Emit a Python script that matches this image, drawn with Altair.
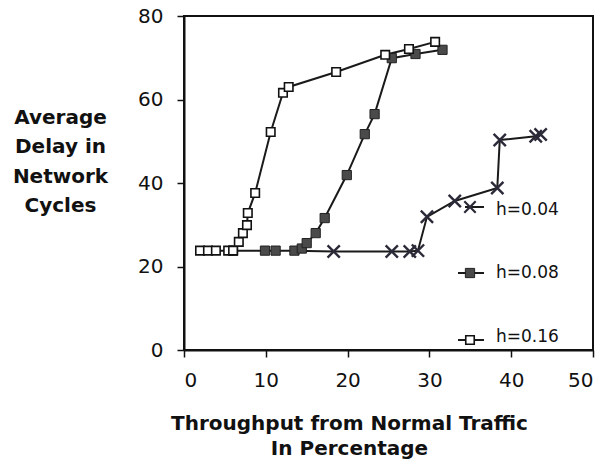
import altair as alt
import pandas as pd

# h = 0.16 (open squares)
thr_016 = [1.96, 2.93, 3.9, 5.4, 6.0, 6.7, 7.2, 7.7, 7.8, 8.7, 10.6, 12.1, 12.8, 18.6, 24.6, 27.5, 30.7]
del_016 = [23.8, 23.8, 23.8, 23.8, 23.8, 25.9, 28.0, 29.9, 32.8, 37.6, 52.2, 61.6, 63.0, 66.6, 70.7, 72.1, 73.8]

# h = 0.08 (filled squares)
thr_008 = [6.0, 9.9, 11.2, 13.5, 14.4, 15.0, 16.1, 17.2, 19.9, 22.1, 23.3, 25.4, 28.3, 31.6]
del_008 = [23.8, 23.8, 23.8, 23.8, 24.3, 25.6, 28.0, 31.6, 41.9, 51.7, 56.5, 69.9, 70.9, 71.9]

# h = 0.04 (crosses)
thr_004 = [13.5, 18.3, 25.4, 27.6, 28.6, 29.7, 33.1, 38.3, 38.6, 43.0, 43.6]
del_004 = [23.8, 23.6, 23.6, 23.6, 23.8, 31.9, 35.7, 38.8, 50.3, 51.2, 51.6]

legend_labels = ["h=0.04", "h=0.08", "h=0.16"]
x_ticks = [0, 10, 20, 30, 40, 50]
y_ticks = [0, 20, 40, 60, 80]


def frame(xs, ys, name):
    return pd.DataFrame({"x": xs, "y": ys, "series": name, "idx": list(range(len(xs)))})


d004 = frame(thr_004, del_004, legend_labels[0])
d008 = frame(thr_008, del_008, legend_labels[1])
d016 = frame(thr_016, del_016, legend_labels[2])
df = pd.concat([d004, d008, d016], ignore_index=True)

xscale = alt.Scale(domain=[0, 50], nice=False, zero=False)
yscale = alt.Scale(domain=[0, 80], nice=False)

xenc = alt.X(
    "x:Q",
    scale=xscale,
    axis=alt.Axis(
        values=x_ticks,
        title=["Throughput from Normal Traffic", "In Percentage"],
        grid=False,
        labelFont="DejaVu Sans",
        labelFontSize=20,
        labelColor="#111",
        labelPadding=13,
        tickSize=7,
        tickWidth=1.5,
        tickColor="#111",
        domainColor="#111",
        domainWidth=2,
        titleFont="DejaVu Sans",
        titleFontSize=20,
        titleFontWeight="bold",
        titleColor="#111",
        titleX=165,
        titleY=63,
        titleAlign="center",
        titleBaseline="top",
        titleLineHeight=25,
    ),
)
yenc = alt.Y(
    "y:Q",
    scale=yscale,
    axis=alt.Axis(
        values=y_ticks,
        title=["Average", "Delay in", "Network", "Cycles"],
        grid=False,
        labelFont="DejaVu Sans",
        labelFontSize=20,
        labelColor="#111",
        labelPadding=14,
        tickSize=7,
        tickWidth=1.5,
        tickColor="#111",
        domainColor="#111",
        domainWidth=2,
        titleFont="DejaVu Sans",
        titleFontSize=20,
        titleFontWeight="bold",
        titleColor="#111",
        titleAngle=0,
        titleX=-124,
        titleY=91,
        titleAlign="center",
        titleBaseline="top",
        titleLineHeight=29.5,
    ),
)

xpath = "M-1,-1L1,1M-1,1L1,-1"

lines = alt.Chart(df).mark_line(color="#1a1a1a", strokeWidth=2).encode(
    x=xenc, y=yenc, detail="series:N", order="idx:Q"
)
# first cross lies hidden under a filled square in the original
crosses = alt.Chart(d004).transform_filter("datum.idx > 0").mark_point(
    shape=xpath, filled=False, stroke="#2a2a38", strokeWidth=2.4, size=150, opacity=1
).encode(x="x:Q", y="y:Q")
filled_sq = alt.Chart(d008).mark_point(
    shape="square", filled=True, fill="#4a4a4a", stroke="#222", strokeWidth=1, size=85, opacity=1
).encode(x="x:Q", y="y:Q")
open_sq = alt.Chart(d016).mark_point(
    shape="square", filled=True, fill="white", stroke="#111", strokeWidth=1.6, size=72, opacity=1
).encode(x="x:Q", y="y:Q")

# manual legend inside the plot (pixel placement)
leg_rows = [(191, 194), (257, 257), (324, 321)]
leg_layers = []
styles = [
    dict(shape=xpath, filled=False, stroke="#2a2a38", strokeWidth=2.2, size=130, opacity=1),
    dict(shape="square", filled=True, fill="#4a4a4a", stroke="#222", strokeWidth=1, size=85, opacity=1),
    dict(shape="square", filled=True, fill="white", stroke="#111", strokeWidth=1.6, size=72, opacity=1),
]
for i, label in enumerate(legend_labels):
    my, ty = leg_rows[i]
    x0 = 281 if i == 0 else 274
    leg_layers.append(
        alt.Chart().mark_rule(color="#1a1a1a", strokeWidth=2).encode(
            x=alt.value(x0), x2=alt.value(300), y=alt.value(my)
        )
    )
    leg_layers.append(
        alt.Chart().mark_point(**styles[i]).encode(x=alt.value(286), y=alt.value(my))
    )
    leg_layers.append(
        alt.Chart().mark_text(
            text=label, align="left", baseline="middle", font="DejaVu Sans", fontSize=17, color="#111"
        ).encode(x=alt.value(312), y=alt.value(ty))
    )

chart = (
    alt.layer(lines, crosses, filled_sq, open_sq, *leg_layers)
    .properties(
        width=409,
        height=334,
        autosize=alt.AutoSizeParams(type="none"),
        padding={"left": 184, "top": 16, "right": 16, "bottom": 124},
        background="white",
    )
    .configure_view(stroke="#111", strokeWidth=2)
)

chart.save("out.html", embed_options={"renderer": "svg", "actions": False})
